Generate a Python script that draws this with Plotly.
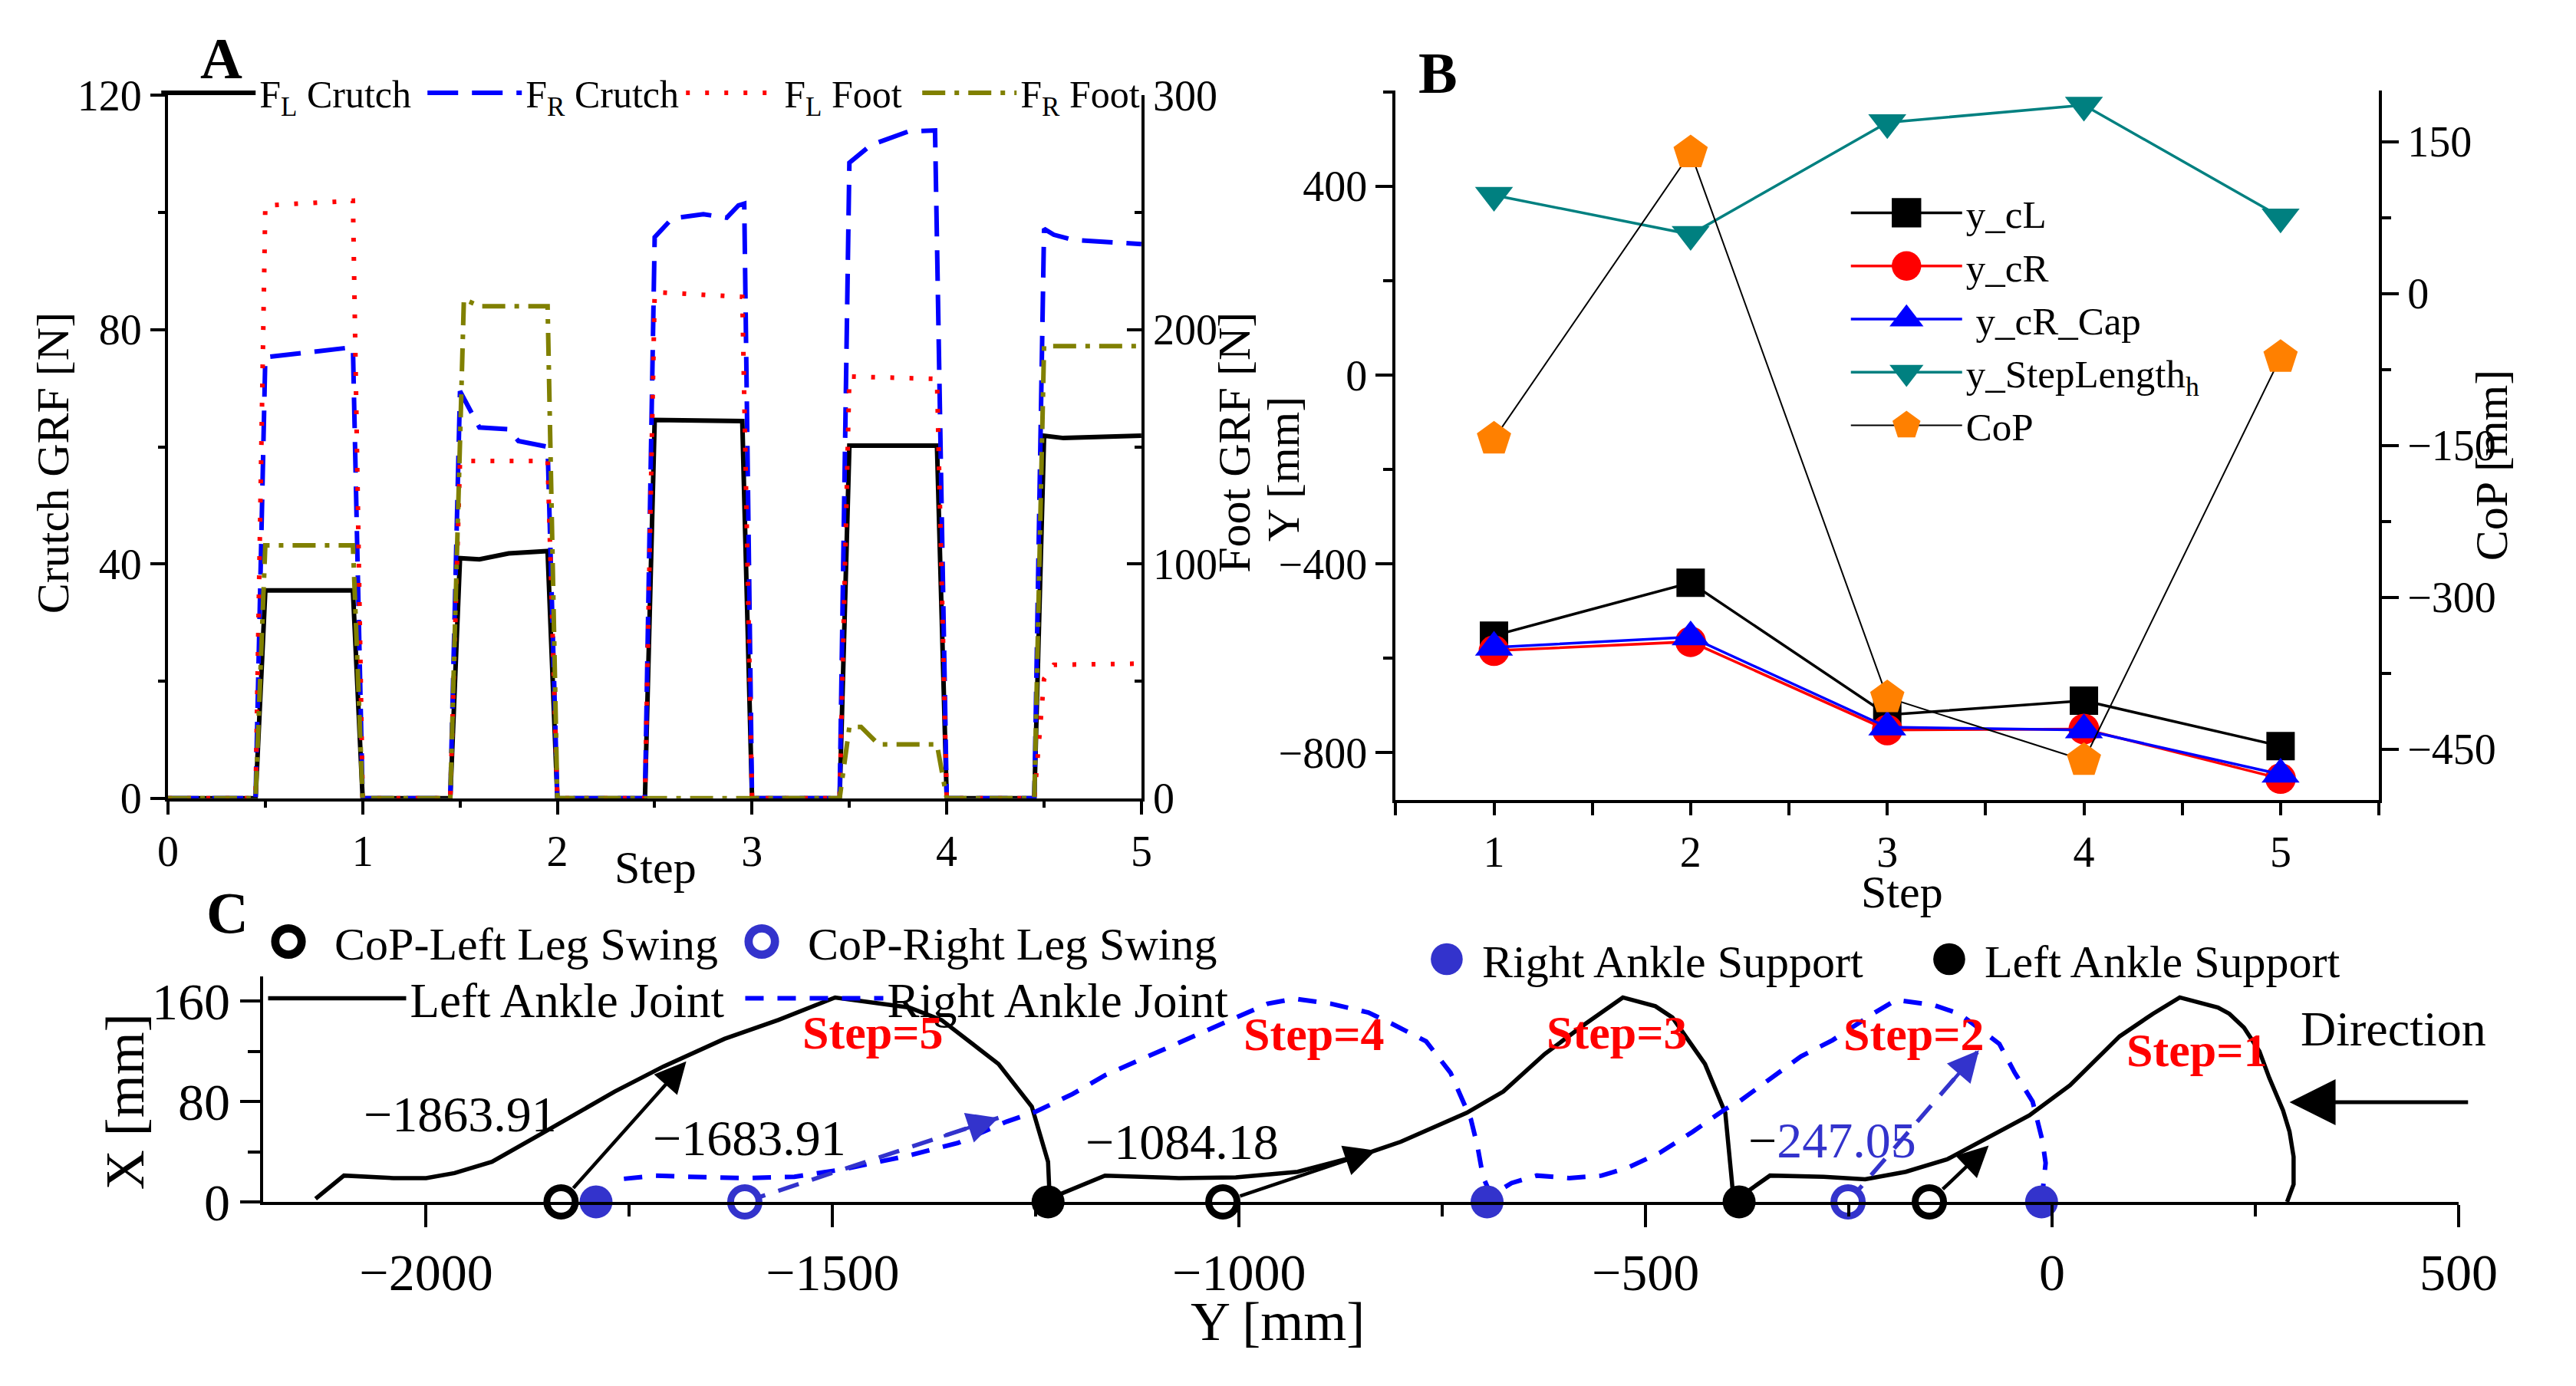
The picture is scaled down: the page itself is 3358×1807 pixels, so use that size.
import plotly.graph_objects as go

W, H = 3358, 1807
FONT = "Liberation Serif"

# ---------------- Panel A data (Step vs GRF) ----------------
t_FL_crutch = [0, 0.45, 0.5, 0.95, 1.0, 1.45, 1.5, 1.6, 1.75, 1.95, 2.0, 2.45, 2.5, 2.95, 3.0,
               3.45, 3.5, 3.95, 4.0, 4.45, 4.5, 4.6, 5.0]
FL_crutch = [0, 0, 35.5, 35.5, 0, 0, 41.0, 40.8, 41.8, 42.2, 0, 0, 64.6, 64.4, 0,
             0, 60.2, 60.2, 0, 0, 61.9, 61.5, 61.9]

t_FR_crutch = [0, 0.45, 0.5, 0.95, 1.0, 1.45, 1.5, 1.6, 1.75, 1.8, 1.95, 2.0, 2.45, 2.5, 2.59,
               2.75, 2.87, 2.93, 2.96, 3.0, 3.45, 3.5, 3.61, 3.73, 3.8, 3.94, 4.0, 4.45, 4.5,
               4.55, 4.65, 5.0]
FR_crutch = [0, 0, 75.3, 77.0, 0, 0, 69.5, 63.3, 63.0, 61.0, 60.0, 0, 0, 95.8, 99.0,
             99.7, 99.1, 101.2, 101.5, 0, 0, 108.5, 111.5, 112.9, 113.8, 114.0, 0, 0, 97.2,
             96.2, 95.3, 94.6]

t_FL_foot = [0, 0.45, 0.5, 0.95, 1.0, 1.45, 1.5, 1.95, 2.0, 2.45, 2.5, 2.95, 3.0,
             3.45, 3.5, 3.95, 4.0, 4.45, 4.5, 4.55, 5.0]
FL_foot = [0, 0, 253, 255, 0, 0, 144, 144, 0, 0, 216, 214, 0,
           0, 180, 179, 0, 0, 51, 57, 57.5]

t_FR_foot = [0, 0.45, 0.5, 0.95, 1.0, 1.45, 1.52, 1.6, 1.95, 2.0, 3.45, 3.5, 3.56, 3.65,
             3.95, 4.0, 4.45, 4.5, 5.0]
FR_foot = [0, 0, 108, 108, 0, 0, 213, 210, 210, 0, 0, 30.5, 30.5, 23,
           23, 0, 0, 193, 193]

# ---------------- Panel B data ----------------
steps = [1, 2, 3, 4, 5]
y_cL = [-552, -440, -720, -690, -786]
y_cR = [-584, -565, -752, -750, -855]
y_cR_Cap = [-577, -555, -746, -752, -846]
y_StepLength = [381, 298, 535, 572, 335]
CoP = [-143.59, 139, -399, -461, -63]

# ---------------- Panel C data (Y, X in mm) ----------------
left_ankle_Y = [289, 297, 297, 292, 284, 267, 255, 236, 218, 204, 157, 124, 83, 22, -28, -89,
                -129, -180, -230, -281, -347, -382, -392,
                -394, -402, -427, -467, -488, -528, -574, -624, -675, -720, -801, -846, -928,
                -1004, -1074, -1165, -1221, -1233,
                -1235, -1255, -1296, -1366, -1406, -1497, -1567, -1633, -1708, -1768, -1859,
                -1919, -1965, -2000, -2040, -2101, -2136]
left_ankle_X = [0, 14, 36, 56, 73, 99, 120, 139, 150, 155, 163, 150, 132, 93, 69, 48,
                34, 24, 18, 20, 21, 5, 2,
                17, 71, 110, 147, 156, 163, 142, 118, 88, 71, 48, 38, 24,
                19.6, 19, 21, 6, 2.5,
                32, 76, 110, 145, 155, 163, 145, 130, 108, 88, 54,
                32, 23, 19, 19, 21, 2.5]

right_ankle_Y = [-13, -8, -12, -24, -46, -65, -83, -114, -146, -170, -192, -218, -246, -270,
                 -309, -350, -385, -402, -442, -483, -523, -554, -594, -634, -665, -690,
                 -700, -707, -715, -740, -770, -812, -841, -887, -932, -965, -1004, -1044,
                 -1084, -1115, -1165, -1205, -1250, -1286, -1346, -1406, -1447, -1487,
                 -1547, -1607, -1678, -1718, -1763, -1770]
right_ankle_X = [0, 31, 49, 80, 103, 126, 135, 150, 157, 159, 161, 151, 139, 129,
                 116, 96, 80, 74, 56, 39, 27, 21, 19, 21, 15, 5,
                 20, 45, 66, 103, 128, 142, 151, 158, 162, 158, 147, 136,
                 124, 115, 101, 86, 72, 64, 47, 37, 31, 26,
                 20, 19, 20, 21, 18, 17]

cop_left_swing_Y = [-1834, -1020, -151]
cop_left_swing_X = [0, 0, 0]
cop_right_swing_Y = [-1608, -251]
cop_right_swing_X = [0, 0]
right_support_Y = [-1791, -695, -13]
right_support_X = [0, 0, 0]
left_support_Y = [-1235, -385]
left_support_X = [0, 0]

arrow_start_Y = [-1834, -1608, -1020, -251, -151]
arrow_end_Y = [-1680, -1296, -832, -90, -78]
arrow_end_X = [112, 67, 41, 121, 45]
arrow_is_right = [False, True, False, True, False]

cop_labels = ["\u22121863.91", "\u22121683.91", "\u22121084.18",
              "\u2212<span style='color:#3333cc'>247.05</span>", "\u2212143.59"]
cop_label_Y = [-1958, -1602, -1070, -270, -138]
cop_label_X = [70, 51, 48, 49, -43]

step_labels = ["Step=1", "Step=2", "Step=3", "Step=4", "Step=5"]
step_label_Y = [178, -170, -536, -908, -1451]
step_label_X = [121, 134, 135, 134, 135]

direction_tail = (513, 79.5)
direction_tip = (292, 79.5)

BLUE_M = "#3333cc"


def px_x(p):
    return p / W


def px_y(p):
    return 1 - p / H


fig = go.Figure()

# ---------- Panel A traces ----------
fig.add_trace(go.Scatter(x=t_FL_crutch, y=FL_crutch, mode="lines", name="F<sub>L</sub> Crutch",
                         line=dict(color="black", width=6), xaxis="x", yaxis="y",
                         legend="legend", legendwidth=209))
fig.add_trace(go.Scatter(x=t_FR_crutch, y=FR_crutch, mode="lines", name="F<sub>R</sub> Crutch",
                         line=dict(color="#0000ff", width=6, dash="40px,18px"), xaxis="x", yaxis="y",
                         legend="legend", legendwidth=199))
fig.add_trace(go.Scatter(x=t_FL_foot, y=FL_foot, mode="lines", name="F<sub>L</sub> Foot",
                         line=dict(color="#ff0000", width=6, dash="5px,20px"), xaxis="x", yaxis="y2",
                         legend="legend", legendwidth=170))
fig.add_trace(go.Scatter(x=t_FR_foot, y=FR_foot, mode="lines", name="F<sub>R</sub> Foot",
                         line=dict(color="#808000", width=6, dash="30px,12px,6px,12px"), xaxis="x",
                         yaxis="y2", legend="legend"))

# ---------- Panel B traces ----------
fig.add_trace(go.Scatter(x=steps, y=y_cL, mode="lines+markers", name="y_cL",
                         line=dict(color="black", width=3.5),
                         marker=dict(symbol="square", size=37, color="black"),
                         xaxis="x2", yaxis="y3", legend="legend2"))
fig.add_trace(go.Scatter(x=steps, y=y_cR, mode="lines+markers", name="y_cR",
                         line=dict(color="#ff0000", width=3.5),
                         marker=dict(symbol="circle", size=40, color="#ff0000"),
                         xaxis="x2", yaxis="y3", legend="legend2"))
fig.add_trace(go.Scatter(x=steps, y=y_cR_Cap, mode="lines+markers", name=" y_cR_Cap",
                         line=dict(color="#0000ff", width=3.5),
                         marker=dict(symbol="triangle-up", size=43, color="#0000ff"),
                         xaxis="x2", yaxis="y3", legend="legend2"))
fig.add_trace(go.Scatter(x=steps, y=y_StepLength, mode="lines+markers", name="y_StepLength<sub>h</sub>",
                         line=dict(color="#008080", width=3.5),
                         marker=dict(symbol="triangle-down", size=43, color="#008080"),
                         xaxis="x2", yaxis="y3", legend="legend2"))
fig.add_trace(go.Scatter(x=steps, y=CoP, mode="lines+markers", name="CoP",
                         line=dict(color="black", width=2),
                         marker=dict(symbol="pentagon", size=47, color="#ff8000"),
                         xaxis="x2", yaxis="y4", legend="legend2"))

# ---------- Panel C traces ----------
fig.add_trace(go.Scatter(x=left_ankle_Y, y=left_ankle_X, mode="lines", name="Left Ankle Joint",
                         line=dict(color="black", width=5.5), xaxis="x3", yaxis="y5",
                         legend="legend5", legendwidth=427, cliponaxis=False))
fig.add_trace(go.Scatter(x=right_ankle_Y, y=right_ankle_X, mode="lines", name="Right Ankle Joint",
                         line=dict(color="#0000ff", width=6, dash="24px,18px"), xaxis="x3",
                         yaxis="y5", legend="legend5", cliponaxis=False))

# dashed shafts of the right-leg CoP arrows
for sy, ey, ex, is_r in zip(arrow_start_Y, arrow_end_Y, arrow_end_X, arrow_is_right):
    if is_r:
        fig.add_trace(go.Scatter(x=[sy, ey], y=[0, ex], mode="lines", showlegend=False,
                                 line=dict(color=BLUE_M, width=5.5, dash="28px,18px"),
                                 xaxis="x3", yaxis="y5", hoverinfo="skip", cliponaxis=False))

fig.add_trace(go.Scatter(x=cop_left_swing_Y, y=cop_left_swing_X, mode="markers",
                         name="CoP-Left Leg Swing",
                         marker=dict(symbol="circle", size=37, color="white",
                                     line=dict(color="black", width=9)),
                         xaxis="x3", yaxis="y5", legend="legend3", legendwidth=492,
                         cliponaxis=False))
fig.add_trace(go.Scatter(x=cop_right_swing_Y, y=cop_right_swing_X, mode="markers",
                         name="CoP-Right Leg Swing",
                         marker=dict(symbol="circle", size=37, color="white",
                                     line=dict(color=BLUE_M, width=9)),
                         xaxis="x3", yaxis="y5", legend="legend3", cliponaxis=False))
fig.add_trace(go.Scatter(x=right_support_Y, y=right_support_X, mode="markers",
                         name="Right Ankle Support",
                         marker=dict(symbol="circle", size=43, color=BLUE_M),
                         xaxis="x3", yaxis="y5", legend="legend4", legendwidth=558,
                         cliponaxis=False))
fig.add_trace(go.Scatter(x=left_support_Y, y=left_support_X, mode="markers",
                         name="Left Ankle Support",
                         marker=dict(symbol="circle", size=43, color="black"),
                         xaxis="x3", yaxis="y5", legend="legend4", cliponaxis=False))

annotations = []

# arrows in panel C
for sy, ey, ex, is_r in zip(arrow_start_Y, arrow_end_Y, arrow_end_X, arrow_is_right):
    if is_r:
        tail_y = ey - 0.22 * (ey - sy)
        tail_x = ex - 0.22 * ex
        annotations.append(dict(x=ey, y=ex, ax=tail_y, ay=tail_x, xref="x3", yref="y5",
                                axref="x3", ayref="y5", showarrow=True, arrowhead=2,
                                arrowsize=1.8, arrowwidth=4.5, arrowcolor=BLUE_M, text=""))
    else:
        annotations.append(dict(x=ey, y=ex, ax=sy, ay=0, xref="x3", yref="y5",
                                axref="x3", ayref="y5", showarrow=True, arrowhead=2,
                                arrowsize=1.8, arrowwidth=4.5, arrowcolor="black",
                                startstandoff=22, text=""))

annotations.append(dict(x=direction_tip[0], y=direction_tip[1], ax=direction_tail[0],
                        ay=direction_tail[1], xref="x3", yref="y5", axref="x3", ayref="y5",
                        showarrow=True, arrowhead=2, arrowsize=2.4, arrowwidth=5,
                        arrowcolor="black", text=""))
annotations.append(dict(x=420, y=138, xref="x3", yref="y5", text="Direction", showarrow=False,
                        xanchor="center", yanchor="middle",
                        font=dict(family=FONT, size=64, color="black")))

for txt, ly, lx in zip(cop_labels, cop_label_Y, cop_label_X):
    annotations.append(dict(x=ly, y=lx, xref="x3", yref="y5", text=txt, showarrow=False,
                            xanchor="center", yanchor="middle",
                            font=dict(family=FONT, size=66, color="black")))
for txt, ly, lx in zip(step_labels, step_label_Y, step_label_X):
    annotations.append(dict(x=ly, y=lx, xref="x3", yref="y5", text="<b>" + txt + "</b>",
                            showarrow=False, xanchor="center", yanchor="middle",
                            font=dict(family=FONT, size=62, color="#ff0000")))

# panel letters
for letter, lx, ly in [("A", 280, 48), ("B", 1897, 68), ("C", 288, 1206)]:
    annotations.append(dict(x=px_x(lx), y=px_y(ly), xref="paper", yref="paper",
                            xanchor="center", yanchor="middle",
                            text="<b>" + letter + "</b>", showarrow=False,
                            font=dict(family=FONT, size=76, color="black")))

# axis titles
titles = [
    ("Crutch GRF [N]", 56, 596, -90, 60),
    ("Foot GRF [N]", 1627, 569, -90, 60),
    ("Y [mm]", 1692, 605, -90, 60),
    ("CoP [mm]", 3298, 600, -90, 60),
    ("Step", 857, 1145, 0, 60),
    ("Step", 2514, 1178, 0, 60),
    ("X [mm]", 152, 1462, -90, 72),
    ("Y [mm]", 1684, 1760, 0, 72),
]
for txt, tx, ty, ang, sz in titles:
    annotations.append(dict(x=px_x(tx), y=px_y(ty), xref="paper", yref="paper", text=txt,
                            textangle=ang, showarrow=False, xanchor="center", yanchor="middle",
                            font=dict(family=FONT, size=sz, color="black")))


def axis_style(size, ticks="outside", ticklen=18, **kw):
    d = dict(showline=True, linewidth=4, linecolor="black", mirror=False, showgrid=False,
             zeroline=False, ticks=ticks, ticklen=ticklen, tickwidth=4, tickcolor="black",
             tickfont=dict(family=FONT, size=size, color="black"), fixedrange=True)
    d.update(kw)
    return d


def minor(dt, ln, ticks="outside"):
    return dict(dtick=dt, tick0=0, ticklen=ln, tickwidth=4, ticks=ticks, tickcolor="black",
                showgrid=False)


def leg(orient, x, y, yanchor, size, iw):
    return dict(orientation=orient, x=px_x(x), y=px_y(y), xanchor="left", yanchor=yanchor,
                font=dict(family=FONT, size=size, color="black"), itemwidth=iw,
                bgcolor="rgba(0,0,0,0)", borderwidth=0)


fig.update_layout(
    width=W, height=H, autosize=False,
    margin=dict(l=0, r=0, t=0, b=0),
    paper_bgcolor="white", plot_bgcolor="rgba(0,0,0,0)",
    font=dict(family=FONT, color="black"),
    showlegend=True,
    # Panel A
    xaxis=axis_style(56, ticklen=17, domain=[px_x(209), px_x(1503)], anchor="y",
                     range=[0, 5], dtick=1, tick0=0, minor=minor(0.5, 8)),
    yaxis=axis_style(56, ticklen=19, domain=[px_y(1051), px_y(98)], anchor="x",
                     range=[0, 120], dtick=40, tick0=0, minor=minor(20, 9)),
    yaxis2=axis_style(56, ticks="inside", ticklen=19, overlaying="y", side="right", anchor="x",
                      range=[0, 300], dtick=100, tick0=0, minor=minor(50, 9, "inside")),
    # Panel B
    xaxis2=axis_style(56, ticklen=16, domain=[px_x(1841), px_x(3148)], anchor="y3",
                      range=[0.5, 5.5], dtick=1, tick0=0, minor=minor(0.5, 16)),
    yaxis3=axis_style(56, ticklen=22, domain=[px_y(1053), px_y(92)], anchor="x2",
                      range=[-900, 602], dtick=400, tick0=0, minor=minor(200, 12)),
    yaxis4=axis_style(56, ticklen=22, overlaying="y3", side="right", anchor="x2",
                      range=[-500, 200], dtick=150, tick0=0, minor=minor(75, 12)),
    # Panel C
    xaxis3=axis_style(68, ticklen=29, domain=[px_x(336), px_x(3254)], anchor="y5",
                      range=[-2200, 500], dtick=500, tick0=0, minor=minor(250, 15)),
    yaxis5=axis_style(68, ticklen=26, domain=[px_y(1598), px_y(1292)], anchor="x3",
                      range=[0, 180], dtick=80, tick0=0, minor=minor(40, 16)),
    legend=leg("h", 195, 54, "top", 50, 123),
    legend2=leg("v", 2441, 216, "top", 51, 145),
    legend3=leg("h", 308, 1245, "middle", 60, 110),
    legend4=leg("h", 1862, 1269, "middle", 60, 82),
    legend5=leg("h", 337, 1322, "middle", 63, 180),
    annotations=annotations,
)

post = """
document.body.style.margin='0';
document.body.style.overflow='hidden';
var gd = document.getElementById('{plot_id}');
function enlargeLegendMarkers(){
  var scales = {legend2: 2.4, legend3: 2.15, legend4: 2.6};
  Object.keys(scales).forEach(function(k){
    var g = gd.querySelector('g.' + k);
    if(!g) return;
    g.querySelectorAll('.legendpoints path.scatterpts').forEach(function(p){
      var t = p.getAttribute('transform') || '';
      if(t.indexOf('scale') < 0){ p.setAttribute('transform', t + ' scale(' + scales[k] + ')'); }
    });
  });
}
enlargeLegendMarkers();
if(gd.on){ gd.on('plotly_afterplot', enlargeLegendMarkers); }
"""

fig.write_html("out.html", post_script=post, config={"displayModeBar": False})
